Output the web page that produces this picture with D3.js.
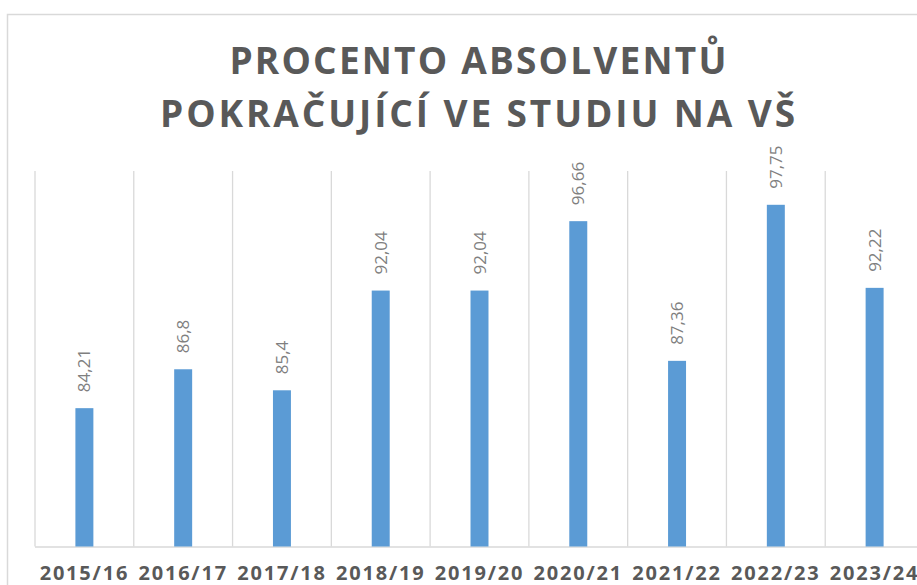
<!DOCTYPE html>
<html>
<head>
<meta charset="utf-8">
<script src="https://cdn.jsdelivr.net/npm/d3@7"></script>
<style>
  body { margin:0; background:#fff; }
  svg text { font-family: "Open Sans", sans-serif; fill:#595959; }
</style>
</head>
<body>
<svg id="chart"></svg>
<script>
var years = ["2015/16","2016/17","2017/18","2018/19","2019/20","2020/21","2021/22","2022/23","2023/24"];
var values = [84.21, 86.8, 85.4, 92.04, 92.04, 96.66, 87.36, 97.75, 92.22];
var labels = ["84,21","86,8","85,4","92,04","92,04","96,66","87,36","97,75","92,22"];
var titleLines = ["PROCENTO ABSOLVENTŮ", "POKRAČUJÍCÍ VE STUDIU NA VŠ"];

var screen = {width:917, height:585};
var graph = {left:35, right:924, top:171, bottom:546.5};

var svg = d3.select("#chart")
    .attr("width", screen.width)
    .attr("height", screen.height);

// chart frame
svg.append("rect")
    .attr("x", 7.5).attr("y", 14.5)
    .attr("width", 1000).attr("height", 700)
    .attr("fill", "none")
    .attr("stroke", "#d9d9d9")
    .attr("stroke-width", 1.5);

//scales
var xScale = d3.scaleBand()
    .domain(years)
    .range([graph.left, graph.right])
    .paddingInner(0.818)
    .paddingOuter(0.409);

var yScale = d3.scaleLinear()
    .domain([75, 100])
    .range([graph.bottom, graph.top]);

var step = xScale.step();

// vertical gridlines between categories
svg.append("g")
    .selectAll("line")
    .data(d3.range(years.length + 1))
    .enter()
    .append("line")
    .attr("x1", function(i){ return graph.left + i*step; })
    .attr("x2", function(i){ return graph.left + i*step; })
    .attr("y1", graph.top)
    .attr("y2", graph.bottom)
    .attr("stroke", "#d9d9d9")
    .attr("stroke-width", 1.3);

// baseline
svg.append("line")
    .attr("x1", graph.left).attr("x2", graph.right)
    .attr("y1", graph.bottom + 0.5).attr("y2", graph.bottom + 0.5)
    .attr("stroke", "#d9d9d9")
    .attr("stroke-width", 1.5);

// bars
svg.append("g")
    .selectAll("rect")
    .data(values)
    .enter()
    .append("rect")
    .attr("x", function(d,i){ return xScale(years[i]); })
    .attr("y", function(d){ return yScale(d); })
    .attr("width", xScale.bandwidth())
    .attr("height", function(d){ return graph.bottom - yScale(d); })
    .attr("fill", "#5b9bd5");

// value labels, rotated
svg.append("g")
    .selectAll("text")
    .data(values)
    .enter()
    .append("text")
    .text(function(d,i){ return labels[i]; })
    .attr("transform", function(d,i){
        var x = xScale(years[i]) + xScale.bandwidth()/2 + 6;
        var y = yScale(d) - 16;
        return "translate(" + x + "," + y + ") rotate(-90)";
    })
    .attr("font-size", 17)
    .style("fill", "#7f7f7f");

// category labels
svg.append("g")
    .selectAll("text")
    .data(years)
    .enter()
    .append("text")
    .text(function(d){ return d; })
    .attr("x", function(d){ return xScale(d) + xScale.bandwidth()/2; })
    .attr("y", 580)
    .attr("text-anchor", "middle")
    .attr("font-size", 20)
    .attr("font-weight", "bold")
    .attr("letter-spacing", 1.8);

// title
var titleWidths = [497, 635];
svg.append("g")
    .selectAll("text")
    .data(titleLines)
    .enter()
    .append("text")
    .text(function(d){ return d; })
    .attr("x", 479)
    .attr("y", function(d,i){ return 74 + i*53; })
    .attr("text-anchor", "middle")
    .attr("font-size", 37)
    .attr("font-weight", "bold")
    .each(function(d,i){
        var w = this.getComputedTextLength();
        var ls = (titleWidths[i] - w) / (d.length - 1);
        d3.select(this).attr("letter-spacing", ls);
    });
</script>
</body>
</html>
